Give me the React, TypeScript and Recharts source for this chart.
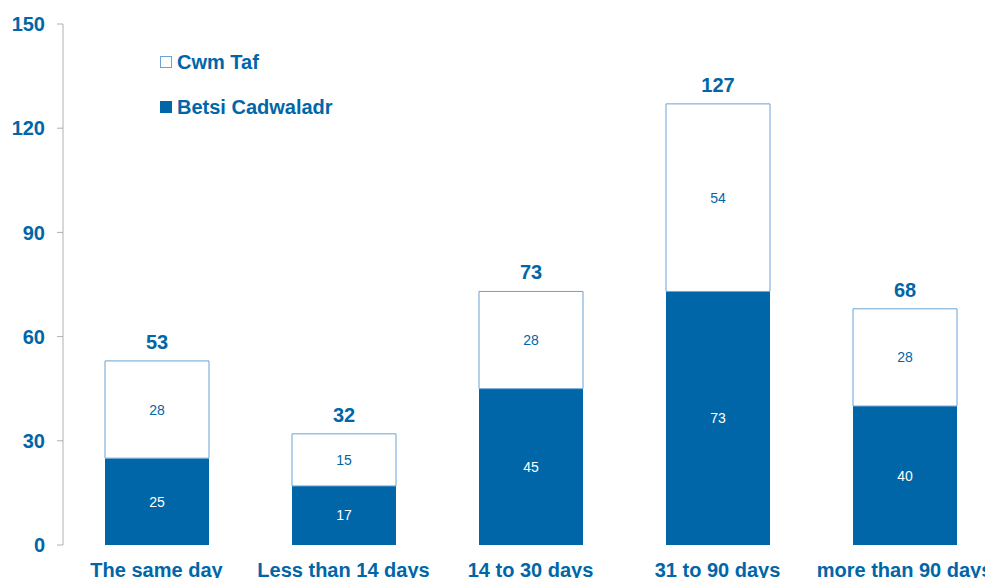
import { BarChart, Bar, XAxis, YAxis, LabelList } from 'recharts';

const categories = ['The same day', 'Less than 14 days', '14 to 30 days', '31 to 90 days', 'more than 90 days'];
const betsiValues = [25, 17, 45, 73, 40];
const cwmTafValues = [28, 15, 28, 54, 28];
const yTicks = [0, 30, 60, 90, 120, 150];
const bandTicks = [0, 1, 2, 3, 4, 5];

const BLUE = '#0066a8';
const LIGHT = '#6aa3d4';
const FONT = '"Liberation Sans", Arial, sans-serif';

const data = categories.map((name, i) => ({
  name,
  betsi: betsiValues[i],
  cwm: cwmTafValues[i],
  total: betsiValues[i] + cwmTafValues[i],
}));

const LegendBox = () => (
  <div style={{ position: 'absolute', left: 160, top: 50, fontFamily: FONT, fontWeight: 700, fontSize: 20, color: BLUE, lineHeight: '24px' }}>
    <div style={{ display: 'flex', alignItems: 'center', height: 24 }}>
      <span style={{ width: 10, height: 10, border: `1px solid ${LIGHT}`, background: '#fff', marginRight: 5 }} />
      Cwm Taf
    </div>
    <div style={{ display: 'flex', alignItems: 'center', height: 24, marginTop: 21 }}>
      <span style={{ width: 12, height: 12, background: BLUE, marginRight: 5 }} />
      Betsi Cadwaladr
    </div>
  </div>
);

export default function App() {
  return (
    <div style={{ position: 'fixed', left: 0, top: 0, width: 985, height: 578, overflow: 'hidden', background: '#fff' }}>
      <BarChart width={1010} height={600} data={data} margin={{ top: 24, right: 12, left: 0, bottom: 25 }}>
        {/* band boundary ticks, like the original's category axis */}
        <XAxis
          xAxisId="bands"
          type="number"
          domain={[0, 5]}
          ticks={bandTicks}
          height={0}
          tick={false}
          axisLine={{ stroke: '#b0b0b0' }}
          tickLine={{ stroke: '#b0b0b0' }}
          tickSize={6}
        />
        <XAxis
          dataKey="name"
          height={30}
          interval={0}
          axisLine={false}
          tickLine={false}
          tickSize={6}
          tickMargin={12}
          tick={{ fill: BLUE, fontSize: 20, fontWeight: 700, fontFamily: FONT }}
        />
        <YAxis
          width={63}
          domain={[0, 150]}
          ticks={yTicks}
          axisLine={{ stroke: '#b0b0b0' }}
          tickLine={{ stroke: '#b0b0b0' }}
          tickSize={6}
          tickMargin={12}
          tick={{ fill: BLUE, fontSize: 20, fontWeight: 700, fontFamily: FONT }}
        />
        <Bar dataKey="betsi" stackId="a" fill={BLUE} barSize={104} isAnimationActive={false}>
          <LabelList dataKey="betsi" position="center" fill="#fff" fontSize={14} fontFamily={FONT} />
        </Bar>
        <Bar dataKey="cwm" stackId="a" fill="#fff" stroke={LIGHT} strokeWidth={1} barSize={104} isAnimationActive={false}>
          <LabelList dataKey="cwm" position="center" fill={BLUE} fontSize={14} fontFamily={FONT} />
          <LabelList dataKey="total" position="top" offset={12} fill={BLUE} fontSize={20} fontWeight={700} fontFamily={FONT} />
        </Bar>
      </BarChart>
      <LegendBox />
    </div>
  );
}
